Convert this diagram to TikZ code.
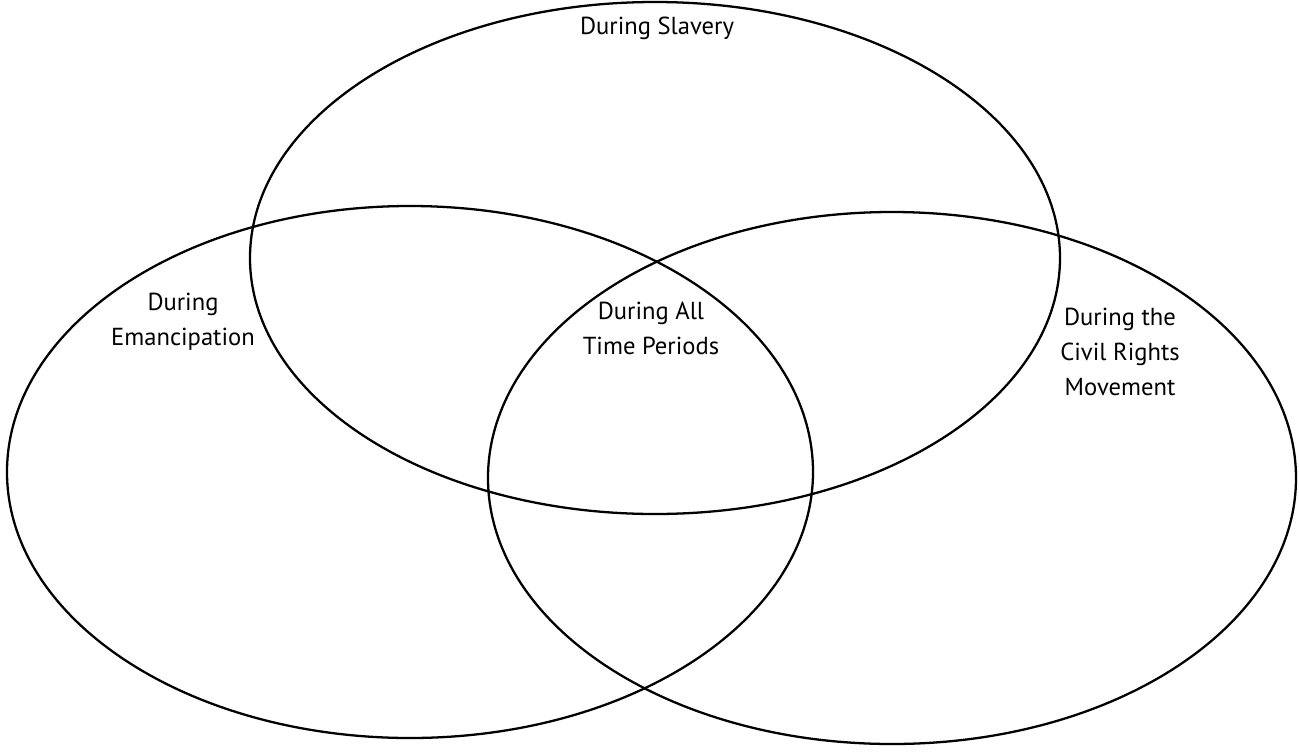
\documentclass[tikz,border=0pt]{standalone}
\usepackage{fontspec}
\setmainfont{PT Sans}
\usetikzlibrary{positioning}

\begin{document}
\begin{tikzpicture}[x=0.02cm,y=-0.02cm,line width=1.3pt]

\tikzset{
  period/.style={align=center,font=\fontsize{14}{20}\selectfont,inner sep=0pt}
}

% =====================
% Frame
% =====================
\useasboundingbox (0,0) rectangle (1299,751);

% =====================
% Centres of the circles
% =====================
\coordinate (slavery) at (655,258);
\coordinate (emancip) at (410,472);
\coordinate (civil) at (892,478);

% =====================
% Circles
% =====================
\draw (slavery) ellipse (405 and 256);
\draw (emancip) ellipse (403 and 266);
\draw (civil) ellipse (404 and 266);

% =====================
% Labels
% =====================
\node[period] (lslavery) at (657,28) {During Slavery};
\node[period] (lemancip) at (183,322) {During\\Emancipation};
\node[period] (lall) at (651,328) {During All\\Time Periods};
\node[period] (lcivil) at (1120,352) {During the\\Civil Rights\\Movement};

\end{tikzpicture}
\end{document}
